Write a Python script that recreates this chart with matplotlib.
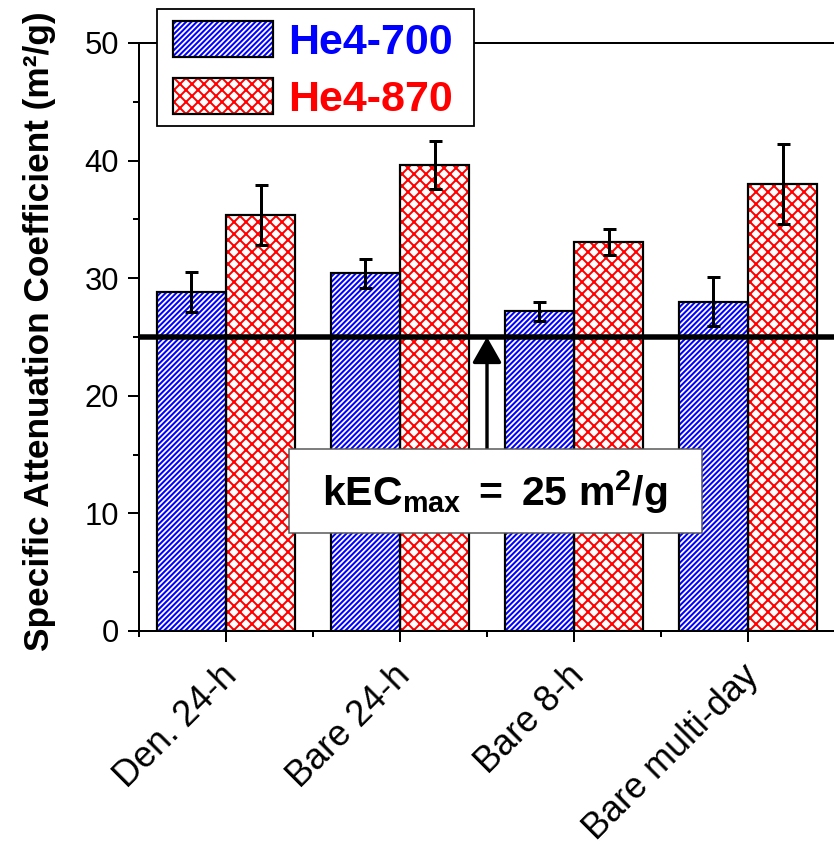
import numpy as np
import matplotlib
matplotlib.use('Agg')
import matplotlib.pyplot as plt
from matplotlib.patches import Rectangle, Patch
from matplotlib.legend_handler import HandlerTuple
from matplotlib.transforms import ScaledTranslation

# ---- data ----
categories = ['Den. 24-h', 'Bare 24-h', 'Bare 8-h', 'Bare multi-day']
series_names = ['He4-700', 'He4-870']
he700 = [28.8, 30.4, 27.2, 28.0]
he700_err = [1.7, 1.25, 0.8, 2.1]
he870 = [35.4, 39.6, 33.1, 38.0]
he870_err = [2.55, 2.05, 1.1, 3.4]
threshold = 25
yticks = [0, 10, 20, 30, 40, 50]
annotation = r'$\mathbf{kEC_{max}\ =\ 25\ m^{2}/g}$'
ylabel = 'Specific Attenuation Coefficient (m\u00b2/g)'

plt.rcParams['font.family'] = ['Liberation Sans', 'DejaVu Sans']
plt.rcParams['mathtext.fontset'] = 'custom'
plt.rcParams['mathtext.rm'] = 'Liberation Sans'
plt.rcParams['mathtext.bf'] = 'Liberation Sans:bold'
plt.rcParams['mathtext.it'] = 'Liberation Sans:italic'
plt.rcParams['hatch.linewidth'] = 1.0

BLUE = '#0000FF'
RED = '#FF0000'
DPI = 144
W, H = 834, 845
fig = plt.figure(figsize=(W / DPI, H / DPI), dpi=DPI)
ax = fig.add_axes([139 / W, (H - 631) / H, 696 / W, 588 / H])

x = np.arange(len(categories))
w = 0.398
hatch700 = '/////////'
hatch870 = 'xxxx'

ax.bar(x - w / 2, he700, w, facecolor='white', edgecolor=BLUE, hatch=hatch700, linewidth=0, zorder=2)
ax.bar(x - w / 2, he700, w, facecolor='none', edgecolor='black', linewidth=1.1, zorder=3)
ax.bar(x + w / 2, he870, w, facecolor='white', edgecolor=RED, hatch=hatch870, linewidth=0, zorder=2)
ax.bar(x + w / 2, he870, w, facecolor='none', edgecolor='black', linewidth=1.1, zorder=3)

ax.errorbar(x - w / 2, he700, yerr=he700_err, fmt='none', ecolor='black',
            elinewidth=1.5, capsize=3.25, capthick=1.5, zorder=4)
ax.errorbar(x + w / 2, he870, yerr=he870_err, fmt='none', ecolor='black',
            elinewidth=1.5, capsize=3.25, capthick=1.5, zorder=4)

ax.axhline(threshold, color='black', lw=2.75, zorder=5)

ax.annotate('', xy=(1.5, threshold), xytext=(1.5, 15.2),
            arrowprops=dict(arrowstyle='-|>,head_length=11,head_width=6.25',
                            mutation_scale=1, lw=1.7, color='black',
                            shrinkA=0, shrinkB=0), zorder=4)

ax.add_patch(Rectangle((0.2155, 0.1667), 0.5934, 0.1428, transform=ax.transAxes,
                       facecolor='white', edgecolor='#555555', lw=0.75, zorder=6))
ax.text(0.5115, 0.2364, annotation, transform=ax.transAxes, ha='center', va='center',
        fontsize=20.5, zorder=7)

ax.set_xlim(-0.5, 3.5)
ax.set_ylim(0, 50)
ax.set_yticks(yticks)
ax.set_yticks(np.arange(5, 50, 10), minor=True)
ax.set_xticks(x)
ax.set_xticks([-0.5, 0.5, 1.5, 2.5], minor=True)
ax.tick_params(axis='x', which='major', length=5.5, width=1, pad=8, direction='out')
ax.tick_params(axis='x', which='minor', length=3, width=1, direction='out')
ax.tick_params(axis='y', which='major', length=5.5, width=1, pad=4.5, labelsize=15.5, direction='out')
ax.tick_params(axis='y', which='minor', length=3, width=1, direction='out')
ax.set_xticklabels(categories, rotation=45, ha='right', va='top',
                   rotation_mode='anchor', fontsize=18)
shift = ScaledTranslation(-7 / DPI, 0, fig.dpi_scale_trans)
for lab in ax.get_xticklabels():
    lab.set_transform(lab.get_transform() + shift)
ax.spines['right'].set_visible(False)
for s in ['left', 'top', 'bottom']:
    ax.spines[s].set_linewidth(1.0)

fig.text(40 / W, 1 - 331 / H, ylabel, rotation=90, ha='center', va='center',
         fontsize=17.6, fontweight='bold')

# legend frame drawn manually, legend contents placed inside it
fig.add_artist(Rectangle((157 / W, 1 - 126 / H), (474 - 157) / W, (126 - 9) / H,
                         transform=fig.transFigure, facecolor='white',
                         edgecolor='black', lw=0.9, zorder=4))
h700 = (Patch(facecolor='white', edgecolor=BLUE, hatch=hatch700, lw=0),
        Patch(facecolor='none', edgecolor='black', lw=1.1))
h870 = (Patch(facecolor='white', edgecolor=RED, hatch=hatch870, lw=0),
        Patch(facecolor='none', edgecolor='black', lw=1.1))
leg = fig.legend([h700, h870], series_names,
                 handler_map={tuple: HandlerTuple(ndivide=1, pad=0)},
                 loc='upper left', bbox_to_anchor=(173 / W, 1 - 21 / H), borderaxespad=0,
                 prop=dict(family='Liberation Sans', weight='bold', size=21.5),
                 handlelength=2.33, handleheight=0.91, handletextpad=0.35,
                 labelspacing=0.35, borderpad=0, frameon=False)
for t, c in zip(leg.get_texts(), [BLUE, RED]):
    t.set_color(c)

fig.savefig('out.png', dpi=DPI)
